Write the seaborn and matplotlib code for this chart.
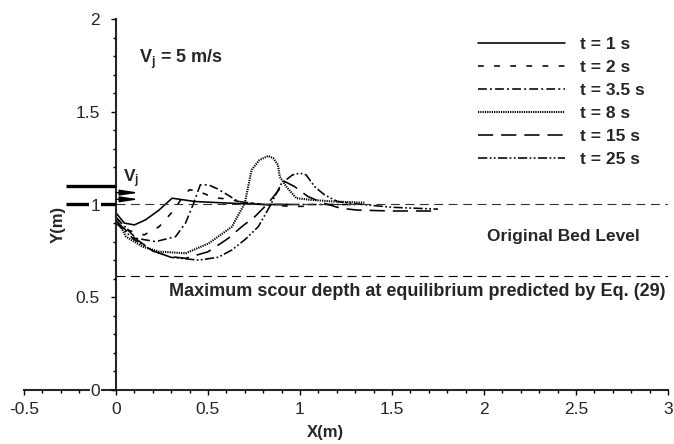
import numpy as np
import pandas as pd
import matplotlib
matplotlib.use("Agg")
import matplotlib.pyplot as plt
from matplotlib.ticker import MultipleLocator
import seaborn as sns

# ---------------- data ----------------
labels = ["t = 1 s", "t = 2 s", "t = 3.5 s", "t = 8 s", "t = 15 s", "t = 25 s"]

x_t1 = [0, 0.045, 0.1, 0.16, 0.234, 0.305, 0.43, 0.6, 0.8, 0.95]
y_t1 = [0.955, 0.90, 0.89, 0.917, 0.97, 1.034, 1.016, 1.008, 1.0, 1.0]

x_t2 = [0, 0.07, 0.153, 0.234, 0.315, 0.368, 0.40, 0.45, 0.5, 0.55, 0.6, 0.7, 0.8, 0.95, 1.05]
y_t2 = [0.93, 0.86, 0.836, 0.88, 0.97, 1.05, 1.08, 1.07, 1.05, 1.035, 1.03, 1.01, 1.0, 0.99, 0.99]

x_t35 = [0, 0.108, 0.216, 0.324, 0.378, 0.422, 0.458, 0.503, 0.55, 0.593, 0.665, 0.8, 1.0, 1.2, 1.3]
y_t35 = [0.93, 0.818, 0.80, 0.827, 0.9, 1.007, 1.106, 1.106, 1.085, 1.06, 1.016, 1.0, 1.0, 1.0, 1.0]

x_t8 = [0, 0.054, 0.144, 0.234, 0.378, 0.503, 0.63, 0.70, 0.737, 0.78, 0.827, 0.854, 0.88, 0.89,
        0.925, 0.98, 1.06, 1.187, 1.35]
y_t8 = [0.93, 0.827, 0.773, 0.746, 0.737, 0.79, 0.88, 1.007, 1.187, 1.24, 1.262, 1.25, 1.214, 1.15,
        1.097, 1.034, 1.025, 1.016, 1.01]

x_t15 = [0, 0.1, 0.2, 0.287, 0.378, 0.5, 0.611, 0.683, 0.755, 0.827, 0.9, 0.917, 0.97, 1.043,
         1.13, 1.22, 1.31, 1.5, 1.72]
y_t15 = [0.91, 0.82, 0.75, 0.72, 0.71, 0.745, 0.818, 0.88, 0.935, 1.007, 1.097, 1.124, 1.097, 1.043,
         1.007, 0.98, 0.97, 0.965, 0.965]

x_t25 = [0, 0.1, 0.2, 0.3, 0.45, 0.557, 0.63, 0.70, 0.773, 0.836, 0.9, 0.96, 1.0, 1.033, 1.079,
         1.133, 1.204, 1.31, 1.5, 1.75]
y_t25 = [0.90, 0.81, 0.75, 0.715, 0.70, 0.716, 0.755, 0.81, 0.88, 0.99, 1.115, 1.16, 1.169, 1.16, 1.097,
         1.052, 1.016, 1.003, 0.985, 0.975]

bed_level = 1.0
max_scour = 0.615
x_ticks = [-0.5, 0, 0.5, 1, 1.5, 2, 2.5, 3]
y_ticks = [0, 0.5, 1, 1.5, 2]

# ---------------- style ----------------
sns.set_style("ticks")
plt.rcParams["font.family"] = ["Liberation Sans", "DejaVu Sans"]
plt.rcParams["mathtext.fontset"] = "custom"
plt.rcParams["mathtext.rm"] = "Liberation Sans"
plt.rcParams["mathtext.bf"] = "Liberation Sans:bold"
plt.rcParams["mathtext.it"] = "Liberation Sans:italic"

frames = []
for lab, xs, ys in zip(labels, [x_t1, x_t2, x_t35, x_t8, x_t15, x_t25],
                       [y_t1, y_t2, y_t35, y_t8, y_t15, y_t25]):
    frames.append(pd.DataFrame({"x": xs, "y": ys, "t": lab}))
df = pd.concat(frames, ignore_index=True)

dash_map = {
    "t = 1 s": "",
    "t = 2 s": (3.6, 6.5),
    "t = 3.5 s": (5.5, 2.0, 1.2, 2.0),
    "t = 8 s": (0.6, 0.5),
    "t = 15 s": (9.5, 5.0),
    "t = 25 s": (5.8, 1.5, 1.1, 1.5, 1.1, 1.5),
}

fig = plt.figure(figsize=(6.74, 4.44), dpi=100)
ax = fig.add_axes([24 / 674, 54 / 444, 644 / 674, 371 / 444])

sns.lineplot(data=df, x="x", y="y", style="t", style_order=labels, dashes=dash_map,
             color="black", linewidth=1.15, sort=False, estimator=None, legend=False, ax=ax)
curve_lines = list(ax.get_lines())
curve_lines[3].set_linewidth(1.5)

# reference lines
ax.plot([0, 3], [bed_level, bed_level], color="#333333", lw=0.8, dashes=(8, 5))
ax.plot([0, 3], [max_scour, max_scour], color="black", lw=0.8, dashes=(8, 5))

# jet nozzle
nozzle_x0 = -0.27
ax.plot([nozzle_x0, 0], [1.1, 1.1], color="black", lw=2.4, solid_capstyle="butt", zorder=2)
ax.plot([nozzle_x0, 0], [1.0, 1.0], color="black", lw=2.4, solid_capstyle="butt", zorder=2)
for ya in (1.064, 1.028):
    ax.annotate("", xy=(0.125, ya), xytext=(0.0, ya),
                arrowprops=dict(arrowstyle="-|>,head_length=1.1,head_width=0.17",
                                color="black", lw=1.0, mutation_scale=10,
                                shrinkA=0, shrinkB=0))
ax.text(0.04, 1.118, r"V$_\mathbf{j}$", fontsize=12.5, fontweight="bold", ha="left", va="baseline")

# annotations
ax.text(0.126, 1.78, r"V$_\mathbf{j}$ = 5 m/s", fontsize=13, fontweight="bold", ha="left", va="center")
ax.text(2.845, 0.83, "Original Bed Level", fontsize=12.5, fontweight="bold", ha="right", va="center")
ax.text(2.985, 0.53, "Maximum scour depth at equilibrium predicted by Eq. (29)",
        fontsize=13, fontweight="bold", ha="right", va="center")

# axes
ax.set_xlim(-0.5, 3)
ax.set_ylim(0, 2)
ax.spines["left"].set_position(("data", 0))
ax.spines["top"].set_visible(False)
ax.spines["right"].set_visible(False)
for s in ("left", "bottom"):
    ax.spines[s].set_linewidth(1.5)
ax.set_xticks(x_ticks)
ax.set_xticklabels([f"{v:g}" for v in x_ticks])
ax.set_yticks(y_ticks)
ax.set_yticklabels([f"{v:g}" for v in y_ticks])
ax.xaxis.set_minor_locator(MultipleLocator(0.1))
ax.yaxis.set_minor_locator(MultipleLocator(0.1))
ax.tick_params(which="major", direction="out", length=3.6, width=1.0, labelsize=12.5, color="black")
ax.tick_params(which="minor", direction="out", length=2.5, width=1.0, color="black")
ax.tick_params(axis="y", pad=8)
ax.tick_params(axis="x", pad=5)
ax.set_axisbelow(False)
for tl in ax.get_yticklabels():
    tl.set_bbox(dict(facecolor="white", edgecolor="none", pad=0.5))

ax.set_xlabel("X(m)", fontsize=12, fontweight="bold")
ax.set_ylabel("Y(m)", fontsize=12, fontweight="bold")
ax.xaxis.set_label_coords(0.468, -0.094)
ax.yaxis.set_label_coords(0.065, 0.445)

leg = ax.legend(curve_lines, labels, loc="upper left", bbox_to_anchor=(0.705, 0.953),
                frameon=False, handlelength=5.0, handletextpad=0.9, labelspacing=0.46,
                borderpad=0, borderaxespad=0,
                prop={"size": 12.5, "weight": "bold"})

fig.savefig("out.png", dpi=100)
